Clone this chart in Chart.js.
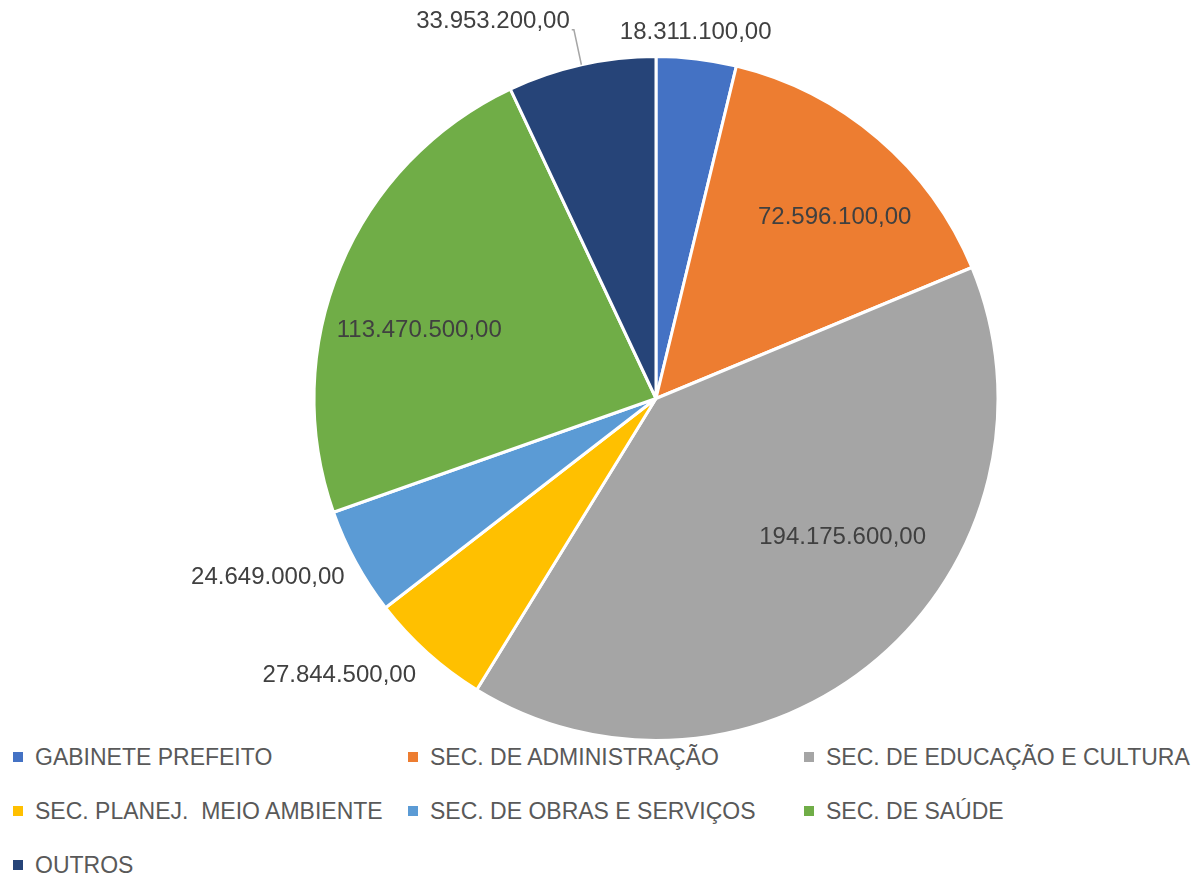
<!DOCTYPE html>
<html lang="pt-BR">
<head>
<meta charset="utf-8">
<title>Orçamento por secretaria</title>
<script src="https://cdn.jsdelivr.net/npm/chart.js@4.4.1/dist/chart.umd.min.js"></script>
<style>
  html, body { margin: 0; padding: 0; background: #ffffff; }
  body { width: 1198px; height: 875px; overflow: hidden; font-family: "Liberation Sans", Arial, sans-serif; }
  #wrap { position: relative; width: 1198px; height: 745px; }
  .legend {
    display: grid;
    grid-template-columns: 395px 396px auto;
    grid-auto-rows: 54px;
    padding-left: 13px;
    margin-top: -15px;
  }
  .legend-item { display: flex; align-items: center; color: #595959; font-size: 23px; white-space: pre; }
  .legend-item span.box { width: 10px; height: 10px; margin-right: 12px; flex: none; }
</style>
</head>
<body>
<div id="wrap"><canvas id="pieChart" width="1198" height="745"></canvas></div>
<div class="legend" id="legend"></div>
<script>
// valores por secretaria
const categories = [
  "GABINETE PREFEITO",
  "SEC. DE ADMINISTRAÇÃO",
  "SEC. DE EDUCAÇÃO E CULTURA",
  "SEC. PLANEJ.  MEIO AMBIENTE",
  "SEC. DE OBRAS E SERVIÇOS",
  "SEC. DE SAÚDE",
  "OUTROS",
];
const values = [18311100, 72596100, 194175600, 27844500, 24649000, 113470500, 33953200];
const colors = ["#4472C4", "#ED7D31", "#A5A5A5", "#FFC000", "#5B9BD5", "#70AD47", "#264478"];

// posição dos rótulos (fração do raio e ajuste de ângulo em graus)
const labelRadius = [1.076, 0.745, 0.68, 1.23, 1.25, 0.72, 1.2];
const labelShift = [-0.6, 4, -12.9, 6.9, 3.8, -6.7, -10.8];
const leaderLine = [false, false, false, false, false, false, true];

const fmt = (v) =>
  v.toLocaleString("pt-BR", { minimumFractionDigits: 2, maximumFractionDigits: 2 });

const valueLabels = {
  id: "valueLabels",
  afterDatasetsDraw(chart) {
    const ctx = chart.ctx;
    const arcs = chart.getDatasetMeta(0).data;
    ctx.save();
    ctx.font = '24px "Liberation Sans", Arial, sans-serif';
    ctx.fillStyle = "#404040";
    ctx.textAlign = "center";
    ctx.textBaseline = "middle";
    arcs.forEach((arc, i) => {
      const { x, y, startAngle, endAngle, outerRadius } = arc.getProps(
        ["x", "y", "startAngle", "endAngle", "outerRadius"], true);
      const mid = (startAngle + endAngle) / 2;
      const a = mid + (labelShift[i] * Math.PI) / 180;
      const r = outerRadius * labelRadius[i];
      const tx = x + Math.cos(a) * r;
      const ty = y + Math.sin(a) * r;
      const text = fmt(values[i]);
      ctx.fillText(text, tx, ty);

      if (leaderLine[i]) {
        const w = ctx.measureText(text).width;
        const ex = x + Math.cos(mid) * outerRadius;
        const ey = y + Math.sin(mid) * outerRadius;
        const bx = x + Math.cos(mid) * outerRadius * 1.1;
        const by = ty + 8;
        ctx.strokeStyle = "#a6a6a6";
        ctx.lineWidth = 1.5;
        ctx.beginPath();
        ctx.moveTo(ex, ey);
        ctx.lineTo(bx, by);
        ctx.lineTo(tx + w / 2 + 2, by);
        ctx.stroke();
      }
    });
    ctx.restore();
  },
};

new Chart(document.getElementById("pieChart").getContext("2d"), {
  type: "pie",
  data: {
    labels: categories,
    datasets: [
      {
        data: values,
        backgroundColor: colors,
        borderColor: "#ffffff",
        borderWidth: 3,
        hoverOffset: 0,
      },
    ],
  },
  options: {
    responsive: false,
    animation: false,
    devicePixelRatio: 1,
    layout: { padding: { left: 312, right: 198, top: 55, bottom: 3 } },
    plugins: {
      legend: { display: false },
      tooltip: { enabled: false },
    },
  },
  plugins: [valueLabels],
});

// legenda em html
const legendEl = document.getElementById("legend");
categories.forEach((name, i) => {
  const item = document.createElement("div");
  item.className = "legend-item";
  item.innerHTML = `<span class="box" style="background:${colors[i]}"></span>${name}`;
  legendEl.appendChild(item);
});
</script>
</body>
</html>
